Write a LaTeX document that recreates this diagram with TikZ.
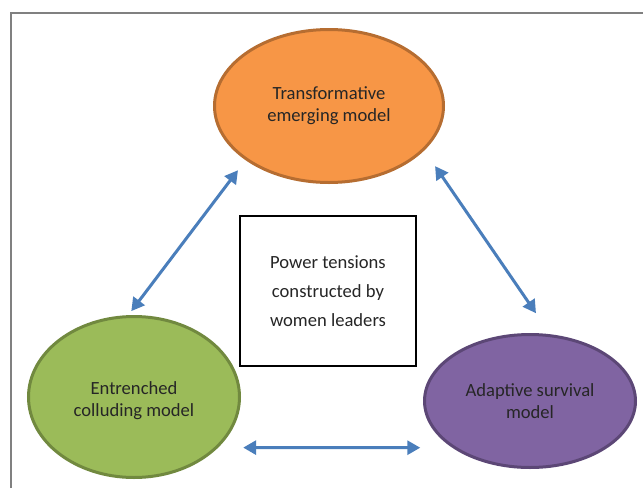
\documentclass[tikz,border=0pt]{standalone}
\usepackage{fontspec}
\setmainfont{Carlito}
\usetikzlibrary{shapes.geometric,arrows.meta}

\definecolor{frameGray}{HTML}{808080}
\definecolor{txt}{HTML}{262626}
\definecolor{orFill}{HTML}{F79646}
\definecolor{orLine}{HTML}{B66D31}
\definecolor{grFill}{HTML}{9BBB59}
\definecolor{grLine}{HTML}{71893F}
\definecolor{puFill}{HTML}{8064A2}
\definecolor{puLine}{HTML}{5C4776}
\definecolor{arrowBlue}{HTML}{4A7EBB}

\tikzset{
  model/.style={ellipse, line width=3pt, inner sep=0pt},
  modeltext/.style={align=center, inner sep=0pt, text=txt,
    font=\fontsize{18.6}{22}\selectfont},
  centrebox/.style={draw=black, line width=1.4pt, fill=white, align=center,
    text=txt, minimum width=176pt, minimum height=150pt,
    font=\fontsize{18.6}{29}\selectfont},
  link/.style={draw=arrowBlue, line width=3pt,
    {Triangle[length=13pt,width=14pt]}-{Triangle[length=13pt,width=14pt]}}
}

\begin{document}
\begin{tikzpicture}[x=1pt,y=-1pt]
  \useasboundingbox (0,0) rectangle (643,488);
  % outer frame (left and top edges)
  \draw[frameGray, line width=1.5pt] (11,488) -- (11,13) -- (643,13);

  % the three leadership models
  \node[model, fill=orFill, draw=orLine, minimum width=229pt, minimum height=153pt]
    (orange) at (329,106) {};
  \node[modeltext] (orangetext) at (orange.center) {Transformative\\emerging model};

  \node[model, fill=grFill, draw=grLine, minimum width=211pt, minimum height=161pt]
    (green) at (134,397) {};
  \node[modeltext] (greentext) at ([yshift=-4pt]green.center) {Entrenched\\colluding model};

  \node[model, fill=puFill, draw=puLine, minimum width=211pt, minimum height=133pt]
    (purple) at (530,401) {};
  \node[modeltext] (purpletext) at (purple.center) {Adaptive survival\\model};

  % central concept
  \node[centrebox] (centre) at (328,291) {Power tensions\\constructed by\\women leaders};

  % two-way links between the models
  \draw[link, shorten <=5pt, shorten >=12.6pt] (green.94.3) -- (orange.213.75);
  \draw[link, shorten <=19pt, shorten >=25.5pt] (orange.335.1) -- (purple.73.9);
  \draw[link, shorten <=25pt, shorten >=32pt] (green.-31.3) -- (purple.211.3);
\end{tikzpicture}
\end{document}
